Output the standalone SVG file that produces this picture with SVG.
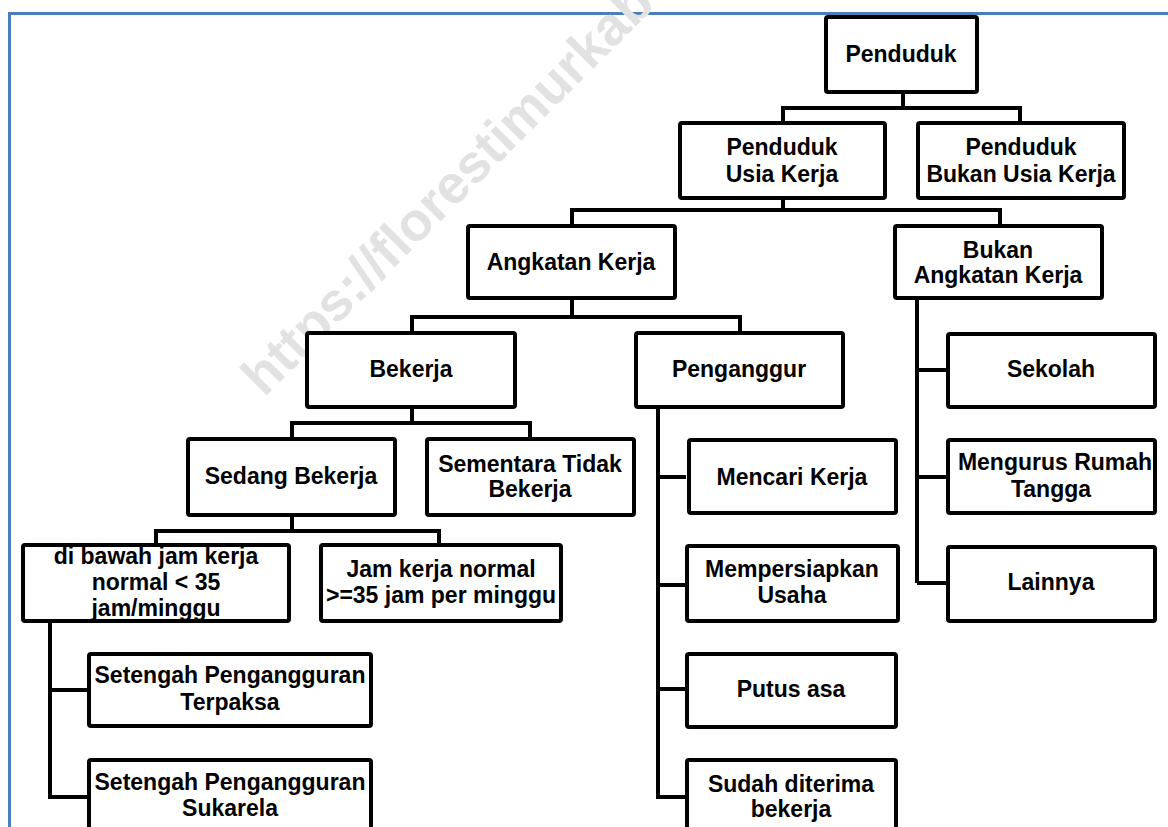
<svg xmlns="http://www.w3.org/2000/svg" width="1168" height="827" viewBox="0 0 1168 827">
<style>
.box{fill:#fff;stroke:#000;stroke-width:4;}
.t{font-family:"Liberation Sans",Arial,sans-serif;font-weight:bold;font-size:23px;fill:#000;text-anchor:middle;}
.c{fill:none;stroke:#000;stroke-width:4;stroke-linejoin:miter;}
.wm{font-family:"Liberation Sans",Arial,sans-serif;font-weight:bold;font-size:54px;fill:#e2e2e2;}
</style>
<rect x="0" y="0" width="1168" height="827" fill="#fff"/>
<rect x="9.5" y="13.5" width="1200" height="900" fill="none" stroke="#4a7ebb" stroke-width="3"/>
<text class="wm" transform="translate(264 398) rotate(-45)">https://florestimurkab</text>
<g id="connectors">
<path class="c" d="M903 94V108M783 121V108H1020V121"/>
<path class="c" d="M783 200V210M572 224V210H1000V224"/>
<path class="c" d="M572 300V317M412 331V317H740V331"/>
<path class="c" d="M917 300V583M917 370H946M917 477H946M917 583H946"/>
<path class="c" d="M658 409V797H686M658 477H686M658 585H686M658 689H686"/>
<path class="c" d="M412 409V423M292 437V423H530V437"/>
<path class="c" d="M292 517V531M156 543V531H439V543"/>
<path class="c" d="M50 623V797H88M50 690H88"/>
</g>
<g id="penduduk"><rect class="box" x="826" y="17" width="151" height="75" rx="2"/><text class="t" x="901" y="62">Penduduk</text></g>
<g id="usia-kerja"><rect class="box" x="680" y="123" width="205" height="75" rx="2"/><text class="t" x="782" y="155">Penduduk</text><text class="t" x="782" y="182">Usia Kerja</text></g>
<g id="bukan-usia-kerja"><rect class="box" x="918" y="123" width="206" height="75" rx="2"/><text class="t" x="1021" y="155">Penduduk</text><text class="t" x="1021" y="182">Bukan Usia Kerja</text></g>
<g id="angkatan-kerja"><rect class="box" x="468" y="226" width="207" height="72" rx="2"/><text class="t" x="571" y="270">Angkatan Kerja</text></g>
<g id="bukan-angkatan-kerja"><rect class="box" x="895" y="226" width="207" height="72" rx="2"/><text class="t" x="998" y="258">Bukan</text><text class="t" x="998" y="283">Angkatan Kerja</text></g>
<g id="bekerja"><rect class="box" x="307" y="333" width="208" height="74" rx="2"/><text class="t" x="411" y="377">Bekerja</text></g>
<g id="penganggur"><rect class="box" x="636" y="333" width="207" height="74" rx="2"/><text class="t" x="739" y="377">Penganggur</text></g>
<g id="sekolah"><rect class="box" x="948" y="334" width="207" height="73" rx="2"/><text class="t" x="1051" y="377">Sekolah</text></g>
<g id="sedang-bekerja"><rect class="box" x="188" y="439" width="207" height="76" rx="2"/><text class="t" x="291" y="484">Sedang Bekerja</text></g>
<g id="sementara"><rect class="box" x="427" y="439" width="207" height="76" rx="2"/><text class="t" x="530" y="472">Sementara Tidak</text><text class="t" x="530" y="497">Bekerja</text></g>
<g id="mencari-kerja"><rect class="box" x="689" y="440" width="207" height="73" rx="2"/><text class="t" x="792" y="485">Mencari Kerja</text></g>
<g id="mengurus"><rect class="box" x="948" y="440" width="207" height="73" rx="2"/><text class="t" x="1055" y="470">Mengurus Rumah</text><text class="t" x="1051" y="497">Tangga</text></g>
<g id="di-bawah"><rect class="box" x="23" y="545" width="266" height="76" rx="2"/><text class="t" x="156" y="564">di bawah jam kerja</text><text class="t" x="156" y="590">normal &lt; 35</text><text class="t" x="156" y="616">jam/minggu</text></g>
<g id="jam-normal"><rect class="box" x="321" y="545" width="240" height="76" rx="2"/><text class="t" x="441" y="577">Jam kerja normal</text><text class="t" x="441" y="603">&gt;=35 jam per minggu</text></g>
<g id="mempersiapkan"><rect class="box" x="687" y="546" width="211" height="75" rx="2"/><text class="t" x="792" y="577">Mempersiapkan</text><text class="t" x="792" y="603">Usaha</text></g>
<g id="lainnya"><rect class="box" x="948" y="547" width="207" height="74" rx="2"/><text class="t" x="1051" y="590">Lainnya</text></g>
<g id="setengah-terpaksa"><rect class="box" x="89" y="654" width="282" height="72" rx="2"/><text class="t" x="230" y="683">Setengah Pengangguran</text><text class="t" x="230" y="710">Terpaksa</text></g>
<g id="putus-asa"><rect class="box" x="687" y="654" width="209" height="73" rx="2"/><text class="t" x="791" y="697">Putus asa</text></g>
<g id="setengah-sukarela"><rect class="box" x="89" y="760" width="282" height="90" rx="2"/><text class="t" x="230" y="790">Setengah Pengangguran</text><text class="t" x="230" y="816">Sukarela</text></g>
<g id="sudah-diterima"><rect class="box" x="687" y="760" width="209" height="90" rx="2"/><text class="t" x="791" y="792">Sudah diterima</text><text class="t" x="791" y="817">bekerja</text></g>
</svg>
